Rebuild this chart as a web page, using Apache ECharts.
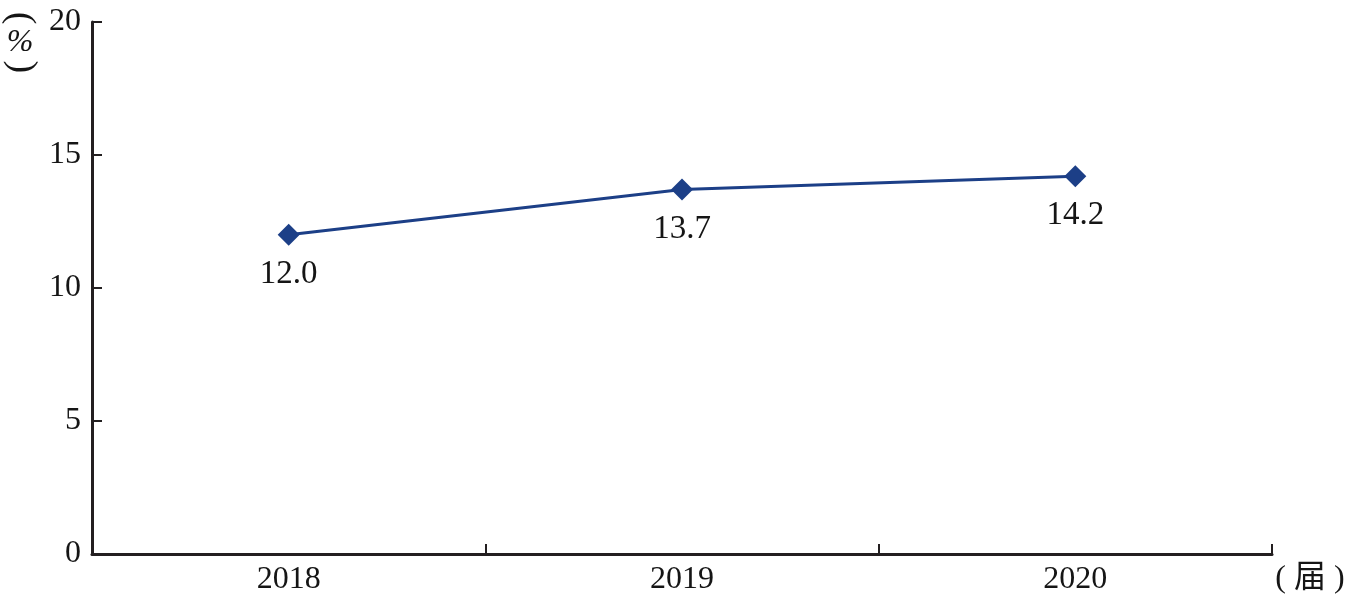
<!DOCTYPE html>
<html><head><meta charset="utf-8">
<script src="https://cdn.jsdelivr.net/npm/echarts@6/dist/echarts.min.js"></script>
<style>html,body{margin:0;padding:0;background:#fff}#c{width:1346px;height:599px}</style>
</head><body><div id="c"></div>
<script>
const categories = ['2018', '2019', '2020'];
const values = [12.0, 13.7, 14.2];
const yTicks = [0, 5, 10, 15, 20];

const serif = '"Liberation Serif", "Times New Roman", serif';
const ink = '#151515';
const chart = echarts.init(document.getElementById('c'), null, {renderer: 'canvas'});
chart.setOption({
  animation: false,
  backgroundColor: '#ffffff',
  grid: {left: 92, right: 74, top: 22, bottom: 45, containLabel: false},
  xAxis: {
    type: 'category',
    data: categories,
    boundaryGap: true,
    axisLine: {lineStyle: {color: '#231f20', width: 3}},
    axisTick: {show: true, inside: true, length: 10, alignWithLabel: false, lineStyle: {color: '#231f20', width: 2}},
    axisLabel: {color: ink, fontFamily: serif, fontSize: 32, margin: 10}
  },
  yAxis: {
    type: 'value',
    min: yTicks[0], max: yTicks[yTicks.length - 1], interval: 5,
    splitLine: {show: false},
    axisLine: {show: true, lineStyle: {color: '#231f20', width: 3}},
    axisTick: {show: true, inside: true, length: 10, lineStyle: {color: '#231f20', width: 2}},
    axisLabel: {color: ink, fontFamily: serif, fontSize: 32, margin: 11}
  },
  series: [{
    type: 'line',
    data: values,
    symbol: 'diamond',
    symbolSize: 22,
    itemStyle: {color: '#1c3f87'},
    lineStyle: {color: '#1c3f87', width: 3},
    label: {
      show: true, position: 'bottom', distance: 12,
      formatter: p => p.value.toFixed(1),
      color: ink, fontFamily: serif, fontSize: 33
    }
  }],
  graphic: [
    {type: 'text', x: 20, y: 18, rotation: -Math.PI / 2, style: {text: '(', fill: ink, font: '38px "Liberation Serif", serif', align: 'center', verticalAlign: 'middle'}},
    {type: 'text', x: 20, y: 43, style: {text: '%', fill: ink, font: 'italic 32px "Liberation Serif", serif', align: 'center', verticalAlign: 'middle'}},
    {type: 'text', x: 20, y: 67, rotation: Math.PI / 2, style: {text: '(', fill: ink, font: '38px "Liberation Serif", serif', align: 'center', verticalAlign: 'middle'}},
    {type: 'text', x: 1310, y: 579, style: {text: '( 届 )', fill: ink, font: '32px "Liberation Serif", "Noto Sans CJK SC", serif', align: 'center', verticalAlign: 'middle'}}
  ]
});
</script></body></html>
